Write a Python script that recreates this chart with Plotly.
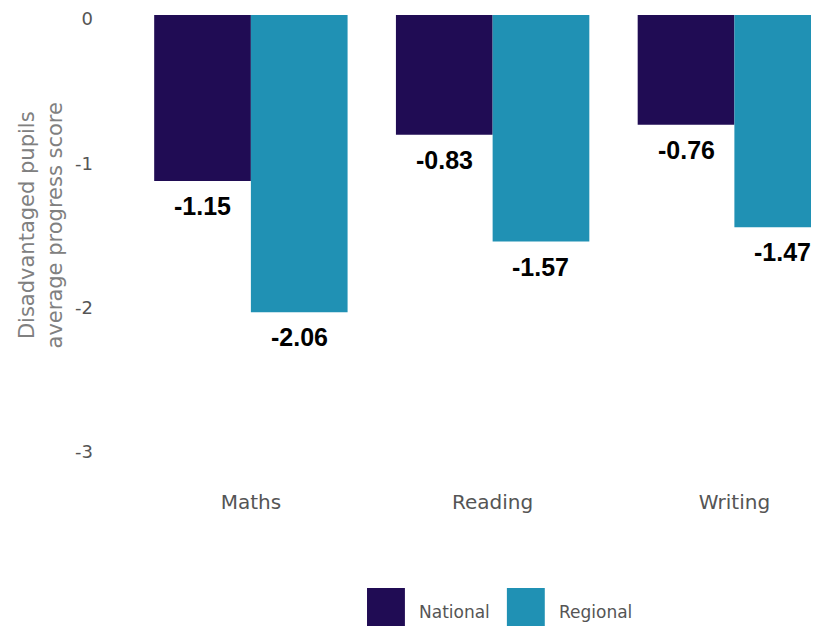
import plotly.graph_objects as go

categories = ["Maths", "Reading", "Writing"]
national = [-1.15, -0.83, -0.76]
regional = [-2.06, -1.57, -1.47]
series_names = ["National", "Regional"]
y_ticks = [0, -1, -2, -3]

colors = ["#200c54", "#2091b4"]
FONT = "DejaVu Sans, Verdana, sans-serif"

fig = go.Figure()
for name, vals, col in zip(series_names, [national, regional], colors):
    fig.add_trace(go.Bar(x=categories, y=vals, name=name, marker=dict(color=col, line=dict(width=0)),
                         showlegend=False))

# value labels below bars
offsets = [-0.2, 0.2]
for vals, off in zip([national, regional], offsets):
    for i, v in enumerate(vals):
        fig.add_annotation(x=i + off, y=v, xref="x", yref="y", text=f"{v:.2f}",
                           showarrow=False, yanchor="middle", yshift=-25,
                           font=dict(family="Liberation Sans, Arial, sans-serif", size=25,
                                     color="#000000", weight="bold"))

# y-axis title
fig.add_annotation(text="Disadvantaged pupils<br>average progress score", xref="paper", yref="paper",
                   x=-0.130, y=0.515, textangle=-90, showarrow=False, xanchor="center", yanchor="middle",
                   font=dict(family=FONT, size=21, color="#808080"))

# legend (manual, large swatches)
leg_x = [0.344, 0.547]
for name, col, lx in zip(series_names, colors, leg_x):
    fig.add_shape(type="rect", xref="paper", yref="paper", x0=lx, x1=lx + 0.055, y0=-0.3233, y1=-0.45,
                  fillcolor=col, line=dict(width=0))
    fig.add_annotation(text=name, xref="paper", yref="paper", x=lx + 0.0725, y=-0.378,
                       xanchor="left", yanchor="middle", showarrow=False,
                       font=dict(family=FONT, size=17, color="#555555"))

fig.update_layout(
    width=811, height=618,
    margin=dict(l=122, r=0, t=7, b=178),
    paper_bgcolor="white", plot_bgcolor="white",
    barmode="group", bargap=0.2, bargroupgap=0,
    font=dict(family=FONT, color="#555555"),
    showlegend=False,
)
fig.update_xaxes(range=[-0.5, 2.35], showgrid=False, zeroline=False, showline=False, automargin=False,
                 tickfont=dict(size=20, color="#555555"), ticks="", ticklabelstandoff=40)
fig.update_yaxes(range=[-3, 0], tickvals=y_ticks, ticktext=[str(t) for t in y_ticks],
                 showgrid=False, zeroline=False, showline=False, ticklabeloverflow="allow",
                 automargin=False, ticklabelshift=4,
                 tickfont=dict(size=18, color="#555555"), ticks="", ticklabelstandoff=36)

fig.write_html("out.html")
